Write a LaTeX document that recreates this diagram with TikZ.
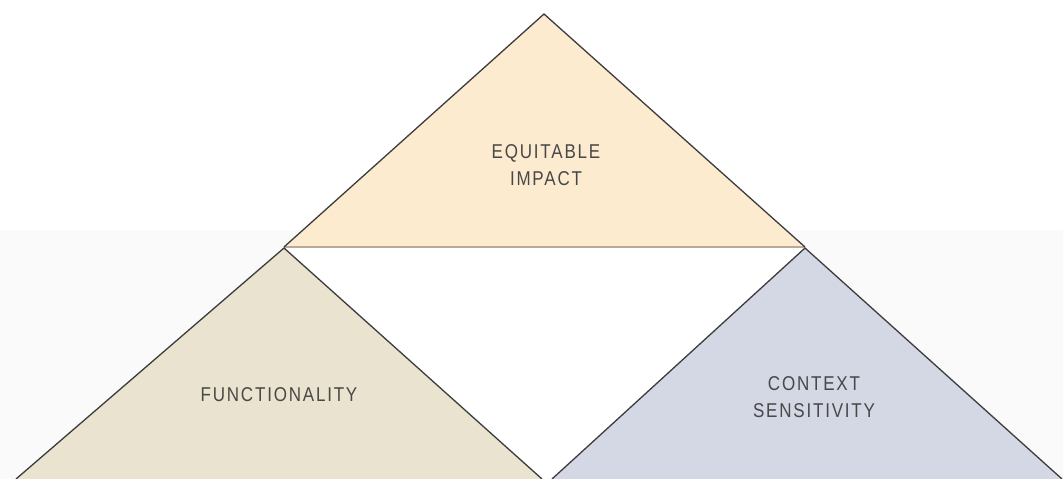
\documentclass[tikz,border=0pt]{standalone}
\usepackage{fontspec}
\newfontfamily\labelfont[FakeStretch=0.85,LetterSpace=9]{Liberation Sans}
\definecolor{topfill}{RGB}{253,235,208}
\definecolor{leftfill}{RGB}{233,227,207}
\definecolor{rightfill}{RGB}{212,216,228}
\definecolor{edgecol}{RGB}{60,60,60}
\definecolor{basecol}{RGB}{185,170,152}
\definecolor{textcol}{RGB}{72,72,72}
\definecolor{lowbg}{RGB}{250,250,250}
\tikzset{
  tri/.style={draw=edgecol, line width=1.3pt, line join=miter},
  lbl/.style={text=textcol, font=\labelfont\fontsize{20}{27}\selectfont, align=center, anchor=base, inner sep=0pt}
}
\begin{document}
\begin{tikzpicture}[x=1pt,y=-1pt]
\useasboundingbox (0,0) rectangle (1063,479);
\fill[white] (0,0) rectangle (1063,479);
\fill[lowbg] (0,230) rectangle (1063,479);
% named corners
\coordinate (A) at (544,14);
\coordinate (B) at (284,247);
\coordinate (C) at (805,247);
\coordinate (B2) at (284,248);
\coordinate (L1) at (16,479);
\coordinate (L2) at (542,479);
\coordinate (C2) at (805,248);
\coordinate (R1) at (552,479);
\coordinate (R2) at (1062,479);
% white gap between triangles
\fill[white] (B2) -- (C2) -- (1063,479) -- (L2) -- cycle;
% triangles
\fill[topfill] (A) -- (B) -- (C) -- cycle;
\fill[leftfill] (B2) -- (L1) -- (L2) -- cycle;
\fill[rightfill] (C2) -- (R1) -- (R2) -- cycle;
\draw[basecol, line width=2.6pt] (B) -- (C);
\draw[tri] (B) -- (A) -- (C);
\draw[tri] (L1) -- (B2) -- (L2);
\draw[tri] (R1) -- (C2) -- (R2);
% labels (base anchor = baseline of last line)
\node[lbl] (eq) at (546,185) {EQUITABLE\\IMPACT};
\node[lbl] (fn) at (279,401) {FUNCTIONALITY};
\node[lbl] (cs) at (814,417) {CONTEXT\\SENSITIVITY};
\end{tikzpicture}
\end{document}
